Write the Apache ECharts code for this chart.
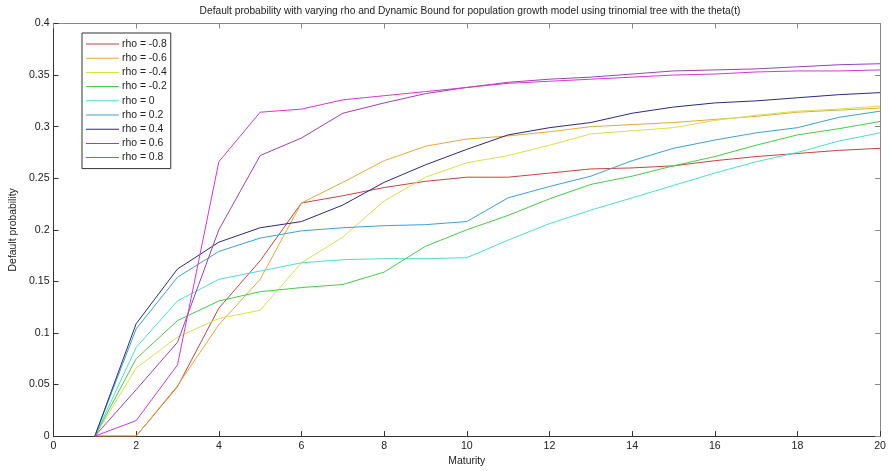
<!DOCTYPE html>
<html>
<head>
<meta charset="utf-8">
<script src="https://cdn.jsdelivr.net/npm/echarts@6/dist/echarts.min.js"></script>
<style>
  html, body { margin: 0; padding: 0; background: #fff; }
  #chart { width: 889px; height: 471px; }
</style>
</head>
<body>
<div id="chart"></div>
<script>
// Maturities 1..20
const maturities = [1, 2, 3, 4, 5, 6, 7, 8, 9, 10, 11, 12, 13, 14, 15, 16, 17, 18, 19, 20];

// Default probability for each correlation value
const rhoM08 = [0, 0, 0.048, 0.124, 0.170, 0.226, 0.233, 0.241, 0.247, 0.251, 0.251, 0.255, 0.259, 0.260, 0.262, 0.267, 0.271, 0.274, 0.277, 0.279];
const rhoM06 = [0, 0, 0.049, 0.108, 0.152, 0.226, 0.246, 0.267, 0.281, 0.288, 0.291, 0.295, 0.300, 0.302, 0.304, 0.307, 0.310, 0.314, 0.316, 0.318];
const rhoM04 = [0, 0.066, 0.096, 0.114, 0.122, 0.168, 0.193, 0.228, 0.251, 0.265, 0.272, 0.282, 0.293, 0.296, 0.299, 0.306, 0.311, 0.315, 0.317, 0.320];
const rhoM02 = [0, 0.075, 0.112, 0.131, 0.140, 0.144, 0.147, 0.159, 0.184, 0.200, 0.214, 0.230, 0.244, 0.252, 0.262, 0.271, 0.282, 0.292, 0.298, 0.305];
const rho00  = [0, 0.086, 0.131, 0.152, 0.160, 0.168, 0.171, 0.172, 0.172, 0.173, 0.190, 0.206, 0.219, 0.231, 0.243, 0.255, 0.266, 0.275, 0.286, 0.294];
const rhoP02 = [0, 0.104, 0.154, 0.179, 0.192, 0.199, 0.202, 0.204, 0.205, 0.208, 0.231, 0.242, 0.252, 0.267, 0.279, 0.287, 0.294, 0.299, 0.309, 0.315];
const rhoP04 = [0, 0.109, 0.162, 0.188, 0.202, 0.208, 0.224, 0.246, 0.263, 0.278, 0.292, 0.299, 0.304, 0.313, 0.319, 0.323, 0.325, 0.328, 0.331, 0.333];
const rhoP06 = [0, 0.045, 0.091, 0.200, 0.272, 0.289, 0.313, 0.323, 0.332, 0.338, 0.343, 0.346, 0.348, 0.351, 0.354, 0.355, 0.356, 0.358, 0.360, 0.361];
const rhoP08 = [0, 0.015, 0.069, 0.266, 0.314, 0.317, 0.326, 0.330, 0.334, 0.338, 0.342, 0.344, 0.346, 0.348, 0.350, 0.351, 0.353, 0.354, 0.354, 0.355];

const seriesNames = ['rho = -0.8', 'rho = -0.6', 'rho = -0.4', 'rho = -0.2', 'rho = 0', 'rho = 0.2', 'rho = 0.4', 'rho = 0.6', 'rho = 0.8'];
const seriesValues = [rhoM08, rhoM06, rhoM04, rhoM02, rho00, rhoP02, rhoP04, rhoP06, rhoP08];
const seriesColors = ['#c8443c', '#e8a83c', '#d6e048', '#44cc44', '#48e0d0', '#3aa2d4', '#2a2a80', '#a040b4', '#d636d6'];

const FONT = 'Liberation Sans, Arial, sans-serif';
const chart = echarts.init(document.getElementById('chart'), null, { renderer: 'canvas' });

const xTicks = { min: 0, max: 20, interval: 2 };
const yTicks = { min: 0, max: 0.4, interval: 0.05 };

const frameAxis = (pos, color) => ({
  position: pos,
  axisLine: { show: true, onZero: false, lineStyle: { color: color, width: 1 } },
  axisTick: { show: true, inside: true, length: 5, lineStyle: { color: color } },
  splitLine: { show: false }
});

chart.setOption({
  animation: false,
  backgroundColor: '#ffffff',
  title: {
    text: 'Default probability with varying rho and Dynamic Bound for population growth model using trinomial tree with the theta(t)',
    left: 465, top: 1, textAlign: 'center',
    textStyle: { fontFamily: FONT, fontSize: 10.2, fontWeight: 'normal', color: '#222' }
  },
  grid: { left: 48.5, right: 7, top: 23.5, bottom: 29, containLabel: false },
  legend: {
    orient: 'vertical', left: 82, top: 33,
    padding: [5, 4, 5, 4],
    icon: 'rect',
    itemWidth: 33, itemHeight: 1, itemGap: 2.2,
    borderColor: '#333', borderWidth: 1, backgroundColor: '#fff',
    textStyle: { fontFamily: FONT, fontSize: 10.4, color: '#222', lineHeight: 12, padding: [0, 0, 0, -2] },
    data: seriesNames
  },
  xAxis: [
    Object.assign({ type: 'value' }, xTicks, frameAxis('bottom', '#333'), {
      name: 'Maturity', nameLocation: 'middle', nameGap: 17,
      nameTextStyle: { fontFamily: FONT, fontSize: 10.4, color: '#222' },
      axisLabel: { fontFamily: FONT, fontSize: 10.6, color: '#222', margin: 4 }
    }),
    Object.assign({ type: 'value' }, xTicks, frameAxis('top', '#888'), {
      axisLabel: { show: false }
    })
  ],
  yAxis: [
    Object.assign({ type: 'value' }, yTicks, frameAxis('left', '#333'), {
      name: 'Default probability', nameLocation: 'middle', nameGap: 34,
      nameTextStyle: { fontFamily: FONT, fontSize: 10.4, color: '#222' },
      axisLabel: { fontFamily: FONT, fontSize: 10.6, color: '#222', margin: 4,
        formatter: v => String(Math.round(v * 100) / 100) }
    }),
    Object.assign({ type: 'value' }, yTicks, frameAxis('right', '#888'), {
      axisLabel: { show: false }
    })
  ],
  series: seriesNames.map((name, i) => ({
    name: name,
    type: 'line',
    xAxisIndex: 0, yAxisIndex: 0,
    symbol: 'none',
    lineStyle: { width: 1, color: seriesColors[i] },
    itemStyle: { color: seriesColors[i] },
    data: maturities.map((m, k) => [m, seriesValues[i][k]])
  }))
});
</script>
</body>
</html>
